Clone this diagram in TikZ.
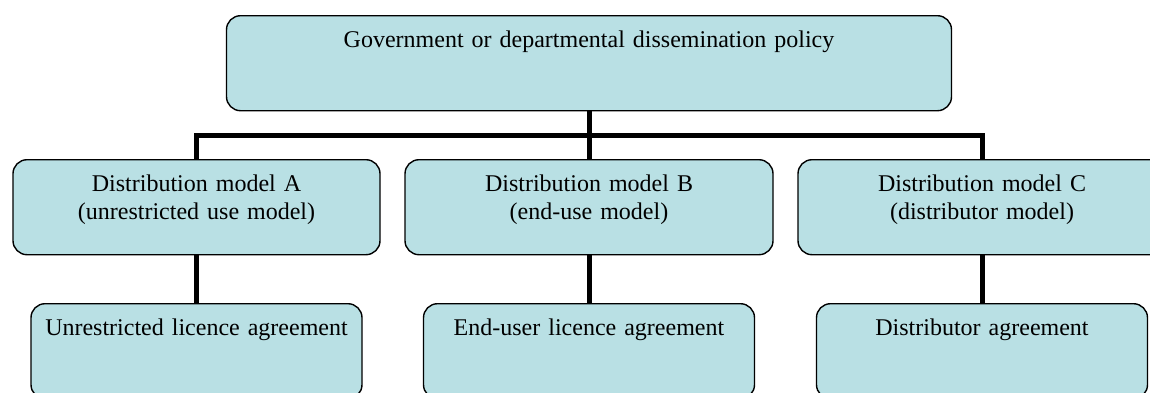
\documentclass[tikz,border=0pt]{standalone}
\usepackage{fontspec}
\setmainfont{Liberation Serif}
\usetikzlibrary{positioning}
\definecolor{boxfill}{RGB}{185,224,228}
\tikzset{%
    box/.style={draw, fill=boxfill, line width=0.7pt, rounded corners=7pt,
        anchor=north, align=center, inner xsep=0pt, inner ysep=0pt,
        text height=16pt, text depth=31.5pt,
        font=\fontsize{12pt}{14pt}\selectfont},
    conn/.style={line width=2.5pt},
}
\begin{document}
\begin{tikzpicture}[x=0.5pt, y=-0.5pt]
\useasboundingbox (0,0) rectangle (1150,392);
\clip (0,0) rectangle (1150,392);
\node[box, text width=362.5pt] (pol) at (589,15) {Government or departmental dissemination policy};
\node[box, text width=183.5pt] (mA) at (196.5,159) {Distribution model A\\(unrestricted use model)};
\node[box, text width=184pt] (mB) at (589,159) {Distribution model B\\(end-use model)};
\node[box, text width=184pt] (mC) at (982,159) {Distribution model C\\(distributor model)};
\node[box, text width=165.5pt] (lA) at (196.5,303) {Unrestricted licence agreement};
\node[box, text width=165.5pt] (lB) at (589,303) {End-user licence agreement};
\node[box, text width=165.5pt] (lC) at (982,303) {Distributor agreement};
\coordinate (bar) at (589,135);
\path (pol) edge[conn] (mB);
\draw[conn] (mA.north) |- (bar) -| (mC.north);
\path (mA) edge[conn] (lA);
\path (mB) edge[conn] (lB);
\path (mC) edge[conn] (lC);
\end{tikzpicture}
\end{document}
